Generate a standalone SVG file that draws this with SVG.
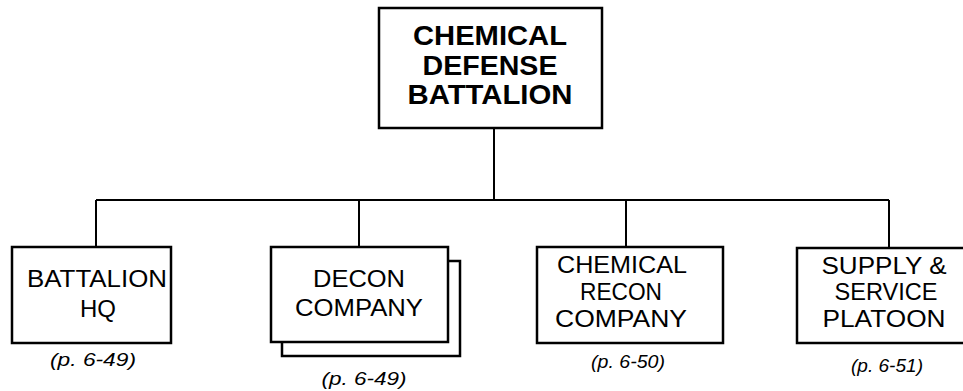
<svg xmlns="http://www.w3.org/2000/svg" width="963" height="391" viewBox="0 0 963 391">
<style>
  .box { fill: #fff; stroke: #000; stroke-width: 2.5; }
  .ln { fill: none; stroke: #000; stroke-width: 2; }
  .t { font-family: "Liberation Sans", Arial, Helvetica, sans-serif; fill: #000; text-anchor: middle; }
  .title { font-size: 28px; font-weight: bold; }
  .lbl { font-size: 24px; }
  .ref { font-size: 19px; font-style: italic; }
</style>
<rect width="963" height="391" fill="#fff"/>
<g id="connectors">
  <path class="ln" d="M494 128 V200 M96 200 H889 M96 200 V247 M359 200 V247 M626 200 V247 M889 200 V248"/>
</g>
<g id="chemical-defense-battalion">
  <rect class="box" x="379" y="8" width="223" height="120"/>
  <text class="t title" x="490" y="45" textLength="154" lengthAdjust="spacingAndGlyphs">CHEMICAL</text>
  <text class="t title" x="490" y="75" textLength="135" lengthAdjust="spacingAndGlyphs">DEFENSE</text>
  <text class="t title" x="490" y="104" textLength="165" lengthAdjust="spacingAndGlyphs">BATTALION</text>
</g>
<g id="battalion-hq">
  <rect class="box" x="12" y="247" width="159" height="96"/>
  <text class="t lbl" x="97" y="287" textLength="140" lengthAdjust="spacingAndGlyphs">BATTALION</text>
  <text class="t lbl" x="98" y="317" textLength="36" lengthAdjust="spacingAndGlyphs">HQ</text>
  <text class="t ref" x="93" y="366" textLength="86" lengthAdjust="spacingAndGlyphs">(p. 6-49)</text>
</g>
<g id="decon-company">
  <rect class="box" x="282" y="261" width="178" height="95"/>
  <rect class="box" x="271" y="247" width="177" height="95"/>
  <text class="t lbl" x="359" y="287" textLength="92" lengthAdjust="spacingAndGlyphs">DECON</text>
  <text class="t lbl" x="359" y="316" textLength="128" lengthAdjust="spacingAndGlyphs">COMPANY</text>
  <text class="t ref" x="364" y="385" textLength="85" lengthAdjust="spacingAndGlyphs">(p. 6-49)</text>
</g>
<g id="chemical-recon-company">
  <rect class="box" x="537" y="247" width="186" height="96"/>
  <text class="t lbl" x="622" y="273" textLength="130" lengthAdjust="spacingAndGlyphs">CHEMICAL</text>
  <text class="t lbl" x="621" y="300" textLength="82" lengthAdjust="spacingAndGlyphs">RECON</text>
  <text class="t lbl" x="621" y="327" textLength="132" lengthAdjust="spacingAndGlyphs">COMPANY</text>
  <text class="t ref" x="628" y="368" textLength="74" lengthAdjust="spacingAndGlyphs">(p. 6-50)</text>
</g>
<g id="supply-service-platoon">
  <rect class="box" x="797" y="248" width="170" height="95"/>
  <text class="t lbl" x="884" y="274" textLength="125" lengthAdjust="spacingAndGlyphs">SUPPLY &amp;</text>
  <text class="t lbl" x="886" y="300" textLength="103" lengthAdjust="spacingAndGlyphs">SERVICE</text>
  <text class="t lbl" x="884" y="327" textLength="123" lengthAdjust="spacingAndGlyphs">PLATOON</text>
  <text class="t ref" x="887" y="372" textLength="72" lengthAdjust="spacingAndGlyphs">(p. 6-51)</text>
</g>
</svg>
